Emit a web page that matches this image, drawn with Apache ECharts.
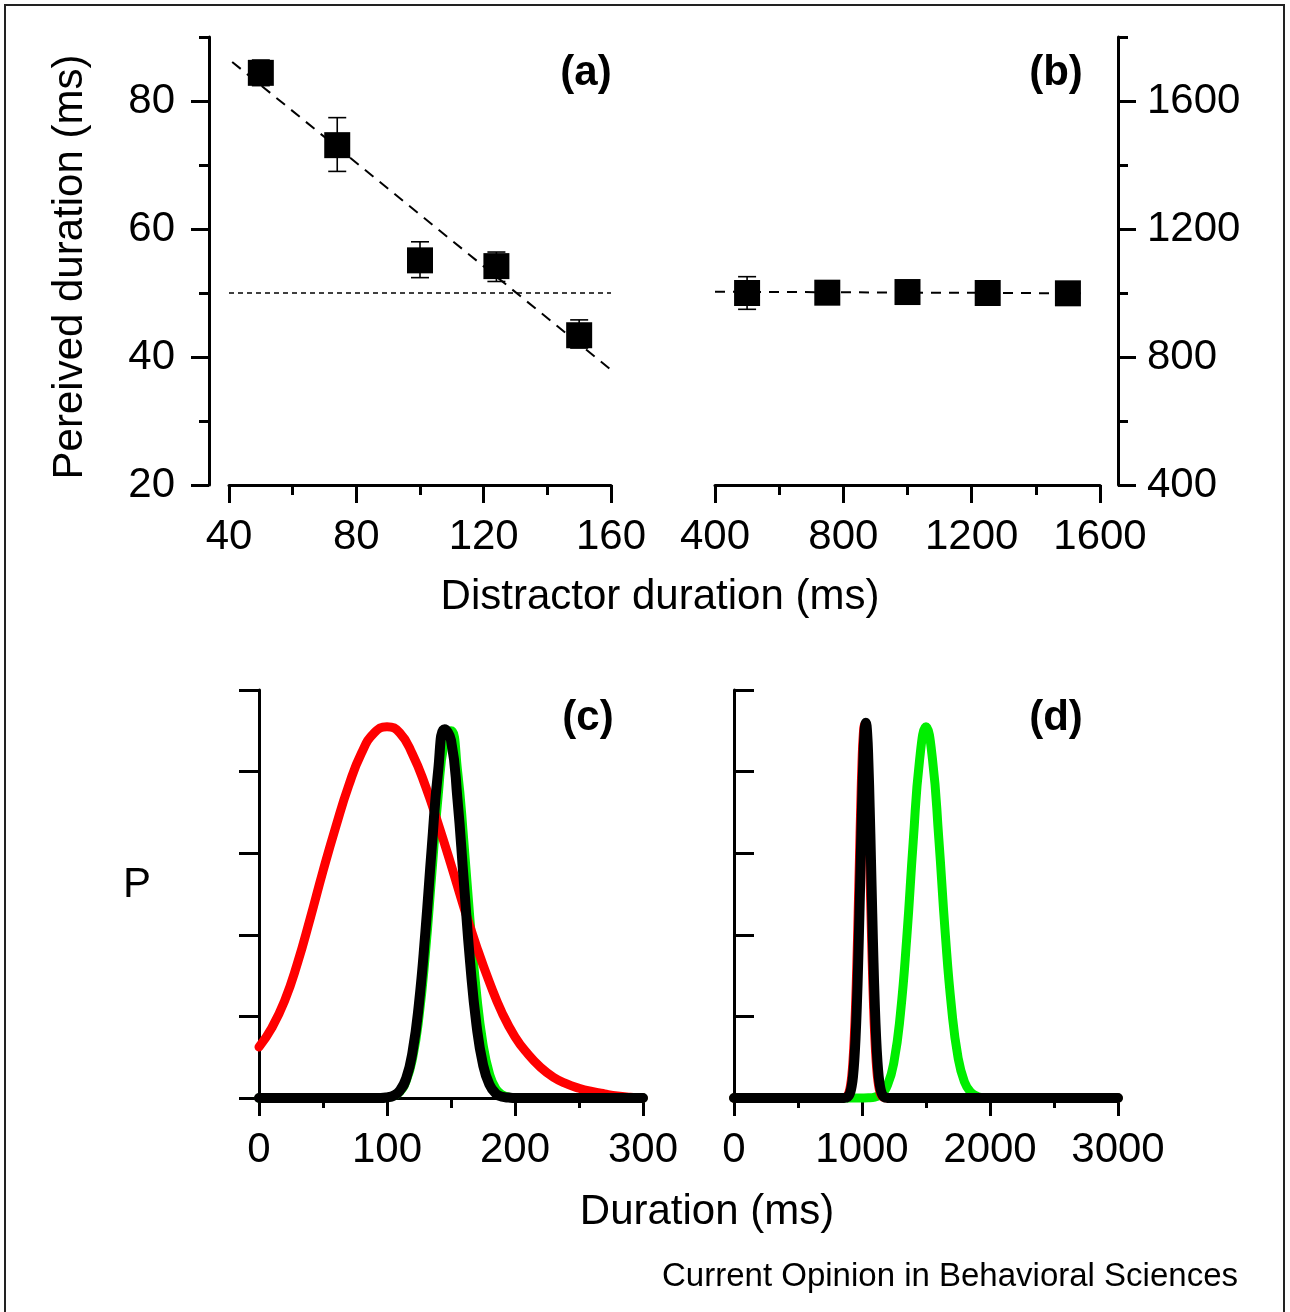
<!DOCTYPE html>
<html><head><meta charset="utf-8">
<script src="https://cdn.jsdelivr.net/npm/echarts@6/dist/echarts.min.js"></script>
<style>html,body{margin:0;padding:0;background:#fff}#c{width:1290px;height:1312px}</style>
</head><body><div id="c"></div>
<script>
// ---------- Panel (a) ----------
const aX = [50, 74, 100, 124, 150];
const aY = [84.4, 73.1, 55.1, 54.2, 43.4];
const aErrLow = [82.4, 69.0, 52.4, 51.8, 41.4];
const aErrHigh = [86.4, 77.4, 58.0, 56.4, 45.8];
const aFitX = [41, 160];
const aFitY = [86.1, 38.0];
const aRefX = [40, 160];
const aRefY = [50, 50];
const aXTicks = [40, 80, 120, 160];
const aXMinor = [60, 100, 140];
const aYTicks = [20, 40, 60, 80];
const aYMinor = [30, 50, 70, 90];
// ---------- Panel (b) ----------
const bX = [500, 750, 1000, 1250, 1500];
const bY = [1000, 1001, 1003, 1000, 999];
const bErrLow = [949, 986, 988, 985, 984];
const bErrHigh = [1051, 1016, 1018, 1015, 1014];
const bFitX = [400, 1540];
const bFitY = [1004, 999];
const bXTicks = [400, 800, 1200, 1600];
const bXMinor = [600, 1000, 1400];
const bYTicks = [400, 800, 1200, 1600];
const bYMinor = [600, 1000, 1400, 1800];
// ---------- Panel (c) ----------
const cRedX = [0,10,20,30,40,50,60,70,80,90,100,110,120,130,140,150,160,170,180,190,200,210,220,230,240,250,260,270,280,290,300];
const cRedY = [0.125,0.172,0.238,0.33,0.44,0.556,0.665,0.765,0.845,0.895,0.91,0.895,0.842,0.765,0.672,0.572,0.468,0.371,0.284,0.208,0.15,0.108,0.075,0.051,0.035,0.024,0.016,0.01,0.005,0.002,0];
const cGreenX = [0,50,95,100,105,110,115,120,125,130,135,140,145,150,155,160,165,170,175,180,185,190,195,200,205,250,300];
const cGreenY = [0,0,0,0.0014,0.005,0.015,0.042,0.098,0.199,0.354,0.549,0.742,0.875,0.9,0.806,0.63,0.429,0.255,0.132,0.06,0.023,0.008,0.0024,0.0007,0,0,0];
const cBlackX = [0,50,95,100,105,110,115,120,125,130,135,140,145,150,155,160,165,170,175,180,185,190,195,200,205,250,300];
const cBlackY = [0,0,0,0.0015,0.0055,0.018,0.048,0.114,0.232,0.407,0.615,0.803,0.904,0.877,0.734,0.531,0.33,0.177,0.082,0.033,0.011,0.003,0.001,0,0,0,0];
const cXTicks = [0, 100, 200, 300];
const cXMinor = [50, 150, 250];
// ---------- Panel (d) ----------
const dRedX = [0,500,800,850,860,870,880,890,900,910,920,930,940,950,960,970,980,990,1000,1010,1020,1030,1040,1050,1060,1070,1080,1090,1100,1110,1120,1130,1140,1150,1160,1170,1180,1200,1500,2000,2500,3000];
const dRedY = [0,0,0,0,0.0007,0.0016,0.0036,0.0076,0.0155,0.03,0.054,0.093,0.15,0.229,0.331,0.453,0.584,0.713,0.822,0.89,0.915,0.89,0.822,0.713,0.584,0.453,0.331,0.229,0.15,0.093,0.054,0.03,0.0155,0.0076,0.0036,0.0016,0.0007,0,0,0,0,0];
const dBlackX = [0,500,800,860,870,880,890,900,910,920,930,940,950,960,970,980,990,1000,1010,1020,1030,1040,1050,1060,1070,1080,1090,1100,1110,1120,1130,1140,1150,1160,1170,1180,1190,1200,1500,2000,2500,3000];
const dBlackY = [0,0,0,0,0.0007,0.0016,0.0036,0.0076,0.0155,0.03,0.054,0.093,0.15,0.229,0.331,0.453,0.584,0.713,0.822,0.895,0.92,0.895,0.822,0.713,0.584,0.453,0.331,0.229,0.15,0.093,0.054,0.03,0.0155,0.0076,0.0036,0.0016,0.0007,0,0,0,0,0];
const dGreenX = [0,500,900,950,1000,1050,1100,1150,1200,1250,1300,1350,1400,1450,1500,1550,1600,1650,1700,1750,1800,1850,1900,1950,2000,2050,2500,3000];
const dGreenY = [0,0,0,0,0.0001,0.0005,0.0024,0.0096,0.032,0.089,0.206,0.394,0.628,0.829,0.91,0.832,0.636,0.405,0.22,0.1,0.04,0.014,0.004,0.001,0,0,0,0];
const dXTicks = [0, 1000, 2000, 3000];
const dXMinor = [500, 1500, 2500];
const pTicks = [0, 0.2, 0.4, 0.6, 0.8, 1.0];

// ---------- helpers ----------
const FONT = '"Liberation Sans", Arial, Helvetica, sans-serif';
const zip = (xs, ys) => xs.map((x, i) => [x, ys[i]]);
const zip3 = (xs, a, b) => xs.map((x, i) => [x, a[i], b[i]]);
const plain = v => String(v);

function xAx(grid, min, max, ticks, minor) {
  return [
    { type: 'value', gridIndex: grid, position: 'bottom', min, max,
      axisLine: { show: true, lineStyle: { color: '#000', width: 3 } },
      axisTick: { show: true, customValues: ticks, length: 18, lineStyle: { color: '#000', width: 3 } },
      axisLabel: { show: true, customValues: ticks, formatter: plain, margin: 31, fontSize: 42, fontFamily: FONT, color: '#000' },
      splitLine: { show: false } },
    { type: 'value', gridIndex: grid, position: 'bottom', min, max,
      axisLine: { show: false },
      axisTick: { show: true, customValues: minor, length: 10, lineStyle: { color: '#000', width: 3 } },
      axisLabel: { show: false }, splitLine: { show: false } }
  ];
}
function yAx(grid, pos, offset, min, max, ticks, minor, margin, showLabel, tickLen) {
  const arr = [
    { type: 'value', gridIndex: grid, position: pos, offset, min, max,
      axisLine: { show: true, lineStyle: { color: '#000', width: 3 } },
      axisTick: { show: true, customValues: ticks, length: tickLen, lineStyle: { color: '#000', width: 3 } },
      axisLabel: { show: showLabel, customValues: ticks, formatter: plain, margin, fontSize: 42, fontFamily: FONT, color: '#000' },
      splitLine: { show: false } }
  ];
  if (minor) arr.push(
    { type: 'value', gridIndex: grid, position: pos, offset, min, max,
      axisLine: { show: false },
      axisTick: { show: true, customValues: minor, length: 10, lineStyle: { color: '#000', width: 3 } },
      axisLabel: { show: false }, splitLine: { show: false } });
  return arr;
}
function errBars(xi, yi, data) {
  return { type: 'custom', xAxisIndex: xi, yAxisIndex: yi, z: 2, clip: false,
    data, encode: { x: 0, y: [1, 2] },
    renderItem: (params, api) => {
      const x = api.value(0), lo = api.value(1), hi = api.value(2);
      const p1 = api.coord([x, lo]), p2 = api.coord([x, hi]);
      const cap = 9, st = { stroke: '#000', lineWidth: 1.6 };
      return { type: 'group', children: [
        { type: 'line', shape: { x1: p1[0], y1: p1[1], x2: p2[0], y2: p2[1] }, style: st },
        { type: 'line', shape: { x1: p1[0] - cap, y1: p1[1], x2: p1[0] + cap, y2: p1[1] }, style: st },
        { type: 'line', shape: { x1: p2[0] - cap, y1: p2[1], x2: p2[0] + cap, y2: p2[1] }, style: st }
      ]};
    } };
}
function curve(xi, yi, data, color, width, z) {
  return { type: 'line', xAxisIndex: xi, yAxisIndex: yi, data, symbol: 'none', showSymbol: false,
    smooth: 0.5, clip: false, z,
    lineStyle: { color, width, cap: 'round', join: 'round' } };
}
function squares(xi, yi, data) {
  return { type: 'scatter', xAxisIndex: xi, yAxisIndex: yi, data, symbol: 'rect', symbolSize: 26, z: 3,
    itemStyle: { color: '#000', opacity: 1 } };
}

const xAxes = [].concat(
  xAx(0, 40, 160, aXTicks, aXMinor),
  xAx(1, 400, 1600, bXTicks, bXMinor),
  xAx(2, 0, 300, cXTicks, cXMinor),
  xAx(3, 0, 3000, dXTicks, dXMinor)
);
const yAxes = [].concat(
  yAx(0, 'left', 20, 20, 90, aYTicks, aYMinor, 34, true, 18),
  yAx(1, 'right', 18, 400, 1800, bYTicks, bYMinor, 29, true, 18),
  yAx(2, 'left', 20, 0, 1, pTicks, null, 20, false, 20),
  yAx(3, 'right', 19, 0, 1, pTicks, null, 20, false, 20)
);

const option = {
  animation: false,
  backgroundColor: '#fff',
  grid: [
    { left: 229, top: 37, width: 382, height: 448 },
    { left: 715, top: 37, width: 385, height: 448 },
    { left: 259, top: 690, width: 384, height: 408 },
    { left: 734, top: 690, width: 384, height: 408 }
  ],
  xAxis: xAxes,
  yAxis: yAxes,
  series: [
    { type: 'line', xAxisIndex: 0, yAxisIndex: 0, data: zip(aFitX, aFitY), symbol: 'none', z: 1,
      lineStyle: { color: '#000', width: 2, type: [11, 8] } },
    { type: 'line', xAxisIndex: 0, yAxisIndex: 0, data: zip(aRefX, aRefY), symbol: 'none', z: 1,
      lineStyle: { color: '#000', width: 1.5, type: [5, 4] } },
    errBars(0, 0, zip3(aX, aErrLow, aErrHigh)),
    squares(0, 0, zip(aX, aY)),

    { type: 'line', xAxisIndex: 2, yAxisIndex: 2, data: zip(bFitX, bFitY), symbol: 'none', z: 1,
      lineStyle: { color: '#000', width: 2, type: [10, 8] } },
    errBars(2, 2, zip3(bX, bErrLow, bErrHigh)),
    squares(2, 2, zip(bX, bY)),

    curve(4, 4, zip(cGreenX, cGreenY), '#00ee00', 9, 2),
    curve(4, 4, zip(cRedX, cRedY), '#ff0000', 9, 3),
    curve(4, 4, zip(cBlackX, cBlackY), '#000000', 10, 4),

    curve(6, 5, zip(dGreenX, dGreenY), '#00ee00', 9, 2),
    curve(6, 5, zip(dRedX, dRedY), '#ff0000', 9, 3),
    curve(6, 5, zip(dBlackX, dBlackY), '#000000', 10, 4)
  ],
  graphic: [
    { type: 'rect', shape: { x: 5, y: 5, width: 1279, height: 1330 }, style: { fill: 'none', stroke: '#222', lineWidth: 2 } },
    { type: 'text', x: 586, y: 73, style: { text: '(a)', font: 'bold 42px ' + FONT, textAlign: 'center', textVerticalAlign: 'middle', fill: '#000' } },
    { type: 'text', x: 1056, y: 73, style: { text: '(b)', font: 'bold 42px ' + FONT, textAlign: 'center', textVerticalAlign: 'middle', fill: '#000' } },
    { type: 'text', x: 588, y: 718, style: { text: '(c)', font: 'bold 42px ' + FONT, textAlign: 'center', textVerticalAlign: 'middle', fill: '#000' } },
    { type: 'text', x: 1056, y: 718, style: { text: '(d)', font: 'bold 42px ' + FONT, textAlign: 'center', textVerticalAlign: 'middle', fill: '#000' } },
    { type: 'text', x: 70, y: 267, rotation: Math.PI / 2, style: { text: 'Pereived duration (ms)', font: '42px ' + FONT, textAlign: 'center', textVerticalAlign: 'middle', fill: '#000' } },
    { type: 'text', x: 660, y: 597, style: { text: 'Distractor duration (ms)', font: '42px ' + FONT, textAlign: 'center', textVerticalAlign: 'middle', fill: '#000' } },
    { type: 'text', x: 137, y: 885, style: { text: 'P', font: '42px ' + FONT, textAlign: 'center', textVerticalAlign: 'middle', fill: '#000' } },
    { type: 'text', x: 707, y: 1212, style: { text: 'Duration (ms)', font: '42px ' + FONT, textAlign: 'center', textVerticalAlign: 'middle', fill: '#000' } },
    { type: 'text', x: 1238, y: 1277, style: { text: 'Current Opinion in Behavioral Sciences', font: '33px ' + FONT, textAlign: 'right', textVerticalAlign: 'middle', fill: '#000' } }
  ]
};
const chart = echarts.init(document.getElementById('c'), null, { renderer: 'canvas' });
chart.setOption(option);
</script>
</body></html>
